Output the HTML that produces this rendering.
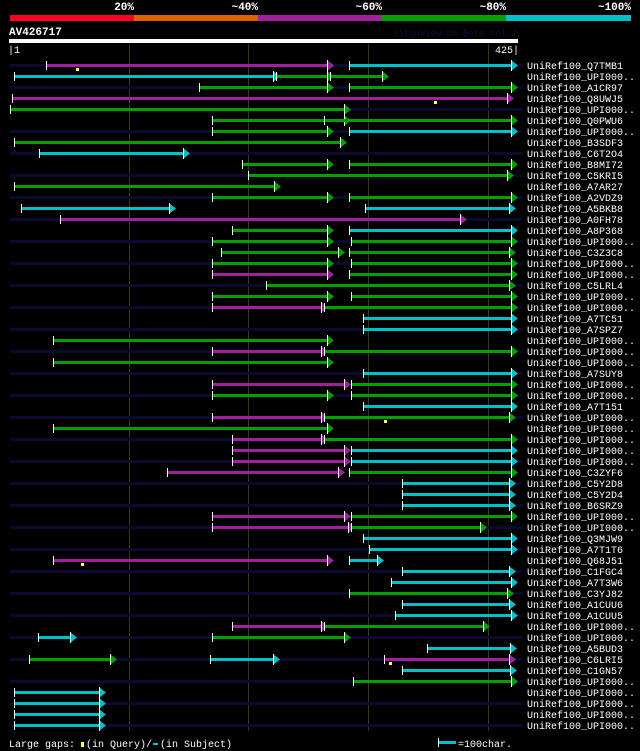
<!DOCTYPE html>
<html><head><meta charset="utf-8"><style>
html,body{margin:0;padding:0;background:#000;}
svg{display:block;}
text{font-family:"Liberation Mono","DejaVu Sans Mono",monospace;}
</style></head><body>
<svg id="chart" width="640" height="751" xmlns="http://www.w3.org/2000/svg" shape-rendering="crispEdges">
<rect x="0" y="0" width="640" height="751" fill="#000"/>
<g>
<rect x="10" y="15" width="124" height="6" fill="#ff0022"/>
<rect x="134" y="15" width="124" height="6" fill="#e06000"/>
<rect x="258" y="15" width="124" height="6" fill="#a020a0"/>
<rect x="382" y="15" width="124" height="6" fill="#00a000"/>
<rect x="506" y="15" width="125" height="6" fill="#00c0c8"/>
<text x="134" y="10" fill="#fff" font-size="11" font-weight="bold" text-anchor="end">20%</text>
<text x="258" y="10" fill="#fff" font-size="11" font-weight="bold" text-anchor="end">~40%</text>
<text x="382" y="10" fill="#fff" font-size="11" font-weight="bold" text-anchor="end">~60%</text>
<text x="506" y="10" fill="#fff" font-size="11" font-weight="bold" text-anchor="end">~80%</text>
<text x="631" y="10" fill="#fff" font-size="11" font-weight="bold" text-anchor="end">~100%</text>
</g>
<text x="9" y="35" fill="#fff" font-size="11" font-weight="bold">AV426717</text>
<text x="517" y="36" fill="#101040" font-size="9" text-anchor="end">AlignView.pm Beta rel.7</text>
<rect x="9" y="39" width="509" height="4" fill="#fff"/>
<text x="8" y="53" fill="#fff" font-size="10">|1</text>
<text x="519" y="53" fill="#fff" font-size="10" text-anchor="end">425|</text>
<g id="grid"></g>
<g id="rows"></g>
<g>
<text x="9" y="747" fill="#fff" font-size="10">Large gaps:</text>
<rect x="81" y="742" width="3" height="5" fill="#ffff60"/>
<text x="86" y="747" fill="#fff" font-size="10">(in Query)/</text>
<rect x="153" y="743" width="5" height="2" fill="#00c0c8"/>
<text x="160" y="747" fill="#fff" font-size="10">(in Subject)</text>
<rect x="438" y="738" width="1" height="9" fill="#fff"/>
<rect x="439" y="741" width="17" height="3" fill="#00c0c8"/>
<text x="458" y="747" fill="#fff" font-size="10">=100char.</text>
</g>
</svg>
<script>
const gridTicks = [100, 200, 300, 400];
const rowNames = ["Q7TMB1","UPI000..","A1CR97","Q8UWJ5","UPI000..","Q0PWU6","UPI000..","B3SDF3","C6T2O4","B8MI72",
"C5KRI5","A7AR27","A2VDZ9","A5BKB8","A0FH78","A8P368","UPI000..","C3Z3C8","UPI000..","UPI000..",
"C5LRL4","UPI000..","UPI000..","A7TC51","A7SPZ7","UPI000..","UPI000..","UPI000..","A7SUY8","UPI000..",
"UPI000..","A7T151","UPI000..","UPI000..","UPI000..","UPI000..","UPI000..","C3ZYF6","C5Y2D8","C5Y2D4",
"B6SRZ9","UPI000..","UPI000..","Q3MJW9","A7T1T6","Q68J51","C1FGC4","A7T3W6","C3YJ82","A1CUU6",
"A1CUU5","UPI000..","UPI000..","A5BUD3","C6LRI5","C1GN57","UPI000..","UPI000..","UPI000..","UPI000..","UPI000.."];
const segRow =   [0,0, 1,1,1, 2,2, 3, 4, 5,5, 6,6, 7, 8, 9,9, 10, 11, 12,12, 13,13, 14, 15,15, 16,16, 17,17, 18,18, 19,19, 20, 21,21, 22,22, 23, 24, 25, 26,26, 27, 28, 29,29, 30,30, 31, 32,32, 33, 34,34, 35,35, 36,36, 37,37, 38, 39, 40, 41,41, 42,42, 43, 44, 45,45, 46, 47, 48, 49, 50, 51,51, 52,52, 53, 54,54,54, 55, 56, 57, 58, 59, 60];
const segStart = [31,284, 4,223,268, 159,284, 3, 1, 170,263, 170,284, 4, 25, 195,284, 200, 4, 170,284, 10,297, 43, 186,284, 170,286, 177,284, 170,286, 170,284, 215, 170,286, 170,263, 296, 296, 37, 170,263, 37, 296, 170,286, 170,286, 296, 170,263, 37, 186,263, 186,286, 186,286, 132,284, 328, 328, 328, 170,286, 170,286, 296, 301, 37,284, 328, 319, 284, 328, 322, 186,263, 24,170, 349, 17,168,313, 328, 287, 4, 4, 4, 4];
const segEnd =   [268,422, 223,268,314, 268,422, 418, 282, 282,422, 268,422, 279, 148, 268,422, 418, 224, 268,422, 136,420, 379, 268,422, 268,422, 277,420, 268,422, 268,422, 420, 268,422, 263,422, 422, 422, 268, 263,422, 268, 422, 282,422, 268,422, 422, 263,420, 268, 263,422, 282,422, 282,422, 277,422, 420, 420, 420, 282,422, 286,396, 422, 422, 268,310, 420, 422, 418, 420, 422, 263,398, 54,282, 421, 87,223,420, 421, 422, 78, 78, 78, 78];
const segKind =  ["P","C", "C","G","G", "G","G", "P", "G", "G","G", "G","C", "G", "C", "G","G", "G", "G", "G","G", "C","C", "P", "G","C", "G","G", "G","G", "G","G", "P","G", "G", "G","G", "P","G", "C", "C", "G", "P","G", "G", "C", "P","G", "G","G", "C", "P","G", "G", "P","G", "P","C", "P","C", "P","G", "C", "C", "C", "P","G", "P","G", "C", "C", "P","C", "C", "C", "G", "C", "C", "P","G", "C","G", "C", "G","C","P", "C", "G", "C", "C", "C", "C"];
const markerRow = [0, 3, 32, 45, 54];
const markerPos = [57, 356, 314, 61, 318];

const colorOf = {P:"#a020a0", G:"#00a000", C:"#00c0c8"};
function xScale(p){ return Math.round(8.8 + 1.198 * p); }
function yRow(i){ return 65 + 11 * i; }
const NS = "http://www.w3.org/2000/svg";
function mk(tag, attrs, parent){ const e=document.createElementNS(NS,tag); for(const k in attrs) e.setAttribute(k,attrs[k]); parent.appendChild(e); return e; }
const grid = document.getElementById('grid');
const rows = document.getElementById('rows');
gridTicks.forEach(t=>{
  const l = mk('rect',{x:xScale(t),y:44,width:1,height:687,fill:"#3a3a12"},grid);
  
  
});
rowNames.forEach((n,i)=>{
  const y=yRow(i);
  if(i%2===0){
    const bg = mk('rect',{x:10,y:y-1,width:512,height:3,fill:"#0a0a30"},rows);
    
    
  }
  const t = mk('text',{x:527,y:y+4,fill:"#fff","font-size":"10"},rows);
  t.textContent = "UniRef100_"+n;
  
  
});
segRow.forEach((r,k)=>{
  const y=yRow(r), x1=xScale(segStart[k]), x2=xScale(segEnd[k]), c=colorOf[segKind[k]];
  const g = mk('g',{},rows);
  
  
  mk('rect',{x:x1,y:y-1,width:Math.max(1,x2-x1-2),height:3,fill:c},g);
  mk('polygon',{points:(x2-3)+","+(y-5)+" "+(x2+4)+","+(y+0.5)+" "+(x2-3)+","+(y+6),fill:c,"shape-rendering":"auto"},g);
  mk('rect',{x:x2-3,y:y-5,width:1,height:11,fill:"#fff"},g);
  mk('rect',{x:x1,y:y-4,width:1,height:9,fill:"#fff"},g);
});
markerRow.forEach((r,k)=>{
  const m = mk('rect',{x:xScale(markerPos[k])-1,y:yRow(r)+3,width:3,height:3,fill:"#ffff60"},rows);
  
  
});
</script>
</body></html>
